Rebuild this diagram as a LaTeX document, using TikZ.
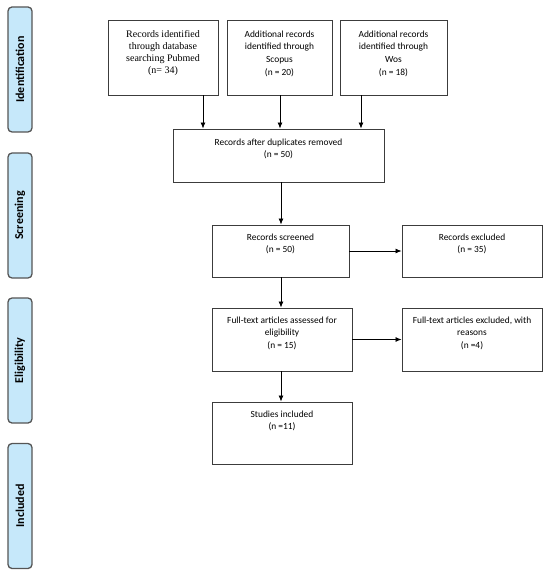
\documentclass[tikz,border=0pt]{standalone}
\usepackage{fontspec}
\usepackage{xcolor}
\usetikzlibrary{arrows.meta, positioning}
\setmainfont{Liberation Serif}
\newfontfamily\flowfont{Carlito}
\definecolor{bandBlue}{HTML}{C6E8FA}
\definecolor{bandEdge}{HTML}{555555}
\definecolor{boxEdge}{HTML}{3C3C3C}

\begin{document}
\begin{tikzpicture}[
  x=1pt, y=-1pt,
  band/.style={draw=bandEdge, fill=bandBlue, rounded corners=4pt, line width=1.3pt, minimum width=24pt, minimum height=125pt, inner sep=0pt},
  bandtext/.style={rotate=90, font=\flowfont\fontsize{12}{14}\selectfont\bfseries},
  stagebox/.style={draw=boxEdge, rectangle, line width=0.9pt, fill=white, inner sep=0pt},
  stagetext/.style={anchor=north, align=center, inner sep=0pt, font=\flowfont\fontsize{9.4}{12.7}\selectfont},
  flow/.style={-{Latex[length=6pt, width=5pt]}, line width=0.8pt, draw=black}
]
\useasboundingbox (0,0) rectangle (550,577);

% phase bands
\node[band] (idband) at (20,69.5) {};
\node[band] (scband) at (20,215.5) {};
\node[band] (elband) at (20,360.5) {};
\node[band] (inband) at (20,506) {};
\node[bandtext] at (idband) {Identification};
\node[bandtext] at (scband) {Screening};
\node[bandtext] at (elband) {Eligibility};
\node[bandtext] at (inband) {Included};

% boxes
\node[stagebox, minimum width=110pt, minimum height=75pt] (pubmed) at (163,57.5) {};
\node[stagebox, minimum width=105pt, minimum height=75pt] (scopus) at (279.5,57.5) {};
\node[stagebox, minimum width=107pt, minimum height=75pt] (wos) at (393.5,57.5) {};
\node[stagebox, minimum width=211pt, minimum height=53pt] (dedup) at (278.5,155.5) {};
\node[stagebox, minimum width=137pt, minimum height=52pt] (screen) at (280.5,251) {};
\node[stagebox, minimum width=140pt, minimum height=52pt] (excl) at (472,251) {};
\node[stagebox, minimum width=140pt, minimum height=63pt] (fulltext) at (282,339.5) {};
\node[stagebox, minimum width=140pt, minimum height=63pt] (reasons) at (472,339.5) {};
\node[stagebox, minimum width=140pt, minimum height=62pt] (studies) at (282,433) {};

% box texts
\node[stagetext, font=\fontsize{10}{12}\selectfont, below=11pt of pubmed.north] (pubmedtxt) {Records identified\\through database\\searching Pubmed\\(n= 34)};
\node[stagetext, below=11pt of scopus.north] (scopustxt) {Additional records\\identified through\\Scopus\\(n = 20)};
\node[stagetext, below=11pt of wos.north] (wostxt) {Additional records\\identified through\\Wos\\(n = 18)};
\node[stagetext, below=10pt of dedup.north] (deduptxt) {Records after duplicates removed\\(n = 50)};
\node[stagetext, below=9pt of screen.north] (screentxt) {Records screened\\(n = 50)};
\node[stagetext, below=9pt of excl.north] (excltxt) {Records excluded\\(n = 35)};
\node[stagetext, below=9pt of fulltext.north] (fulltexttxt) {Full-text articles assessed for\\eligibility\\(n = 15)};
\node[stagetext, below=9pt of reasons.north] (reasonstxt) {Full-text articles excluded, with\\reasons\\(n =4)};
\node[stagetext, below=9pt of studies.north] (studiestxt) {Studies included\\(n =11)};

% arrows
\draw[flow] (pubmed.south -| 203,0) -- (dedup.north -| 203,0);
\draw[flow] (scopus.south -| 280,0) -- (dedup.north -| 280,0);
\draw[flow] (wos.south -| 361,0) -- (dedup.north -| 361,0);
\draw[flow] (dedup.south -| 281,0) -- (screen.north -| 281,0);
\draw[flow] (screen.east) -- (excl.west |- screen.east);
\draw[flow] (screen.south -| 281,0) -- (fulltext.north -| 281,0);
\draw[flow] (fulltext.east) -- (reasons.west |- fulltext.east);
\draw[flow] (fulltext.south -| 281,0) -- (studies.north -| 281,0);
\end{tikzpicture}
\end{document}
